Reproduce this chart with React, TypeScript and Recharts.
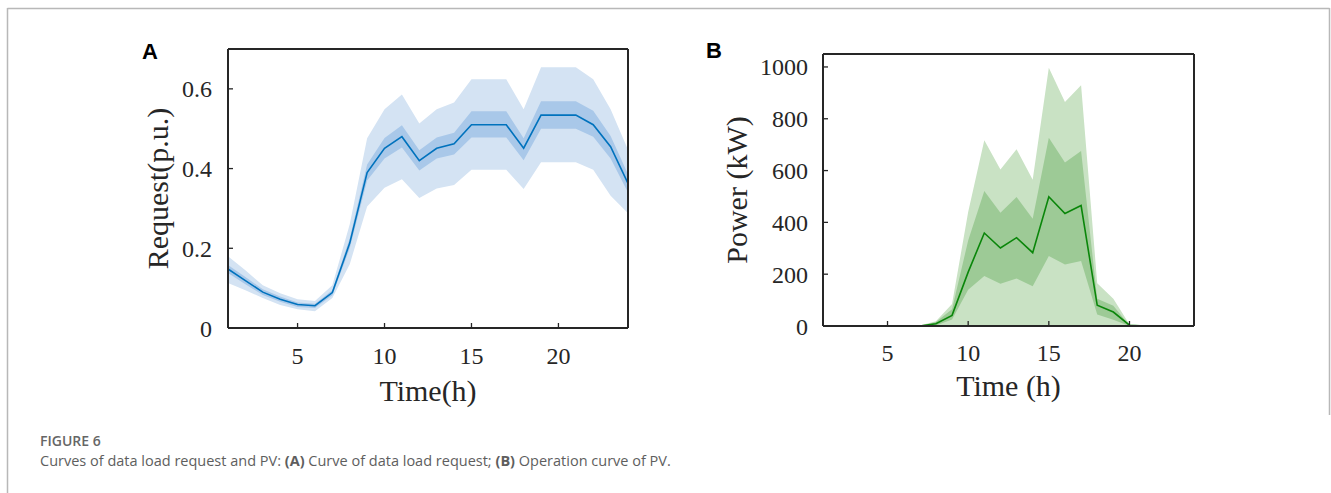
import React from 'react';
import { ComposedChart, Area, Line, XAxis, YAxis } from 'recharts';

// hours of the day
const HOURS = [1, 2, 3, 4, 5, 6, 7, 8, 9, 10, 11, 12, 13, 14, 15, 16, 17, 18, 19, 20, 21, 22, 23, 24];

// (A) data load request, p.u.
const REQ_MEAN = [0.148, 0.119, 0.09, 0.072, 0.059, 0.056, 0.089, 0.213, 0.39, 0.451, 0.48, 0.42, 0.451, 0.462, 0.51, 0.51, 0.51, 0.451, 0.534, 0.534, 0.534, 0.51, 0.455, 0.363];
const REQ_IN_LO = [0.138, 0.11, 0.083, 0.066, 0.053, 0.05, 0.082, 0.2, 0.37, 0.425, 0.453, 0.395, 0.425, 0.435, 0.478, 0.478, 0.478, 0.421, 0.5, 0.5, 0.5, 0.48, 0.425, 0.34];
const REQ_IN_HI = [0.158, 0.128, 0.097, 0.079, 0.064, 0.061, 0.095, 0.225, 0.41, 0.477, 0.509, 0.446, 0.478, 0.49, 0.544, 0.544, 0.544, 0.476, 0.569, 0.569, 0.569, 0.545, 0.482, 0.386];
const REQ_OUT_LO = [0.113, 0.095, 0.075, 0.058, 0.047, 0.042, 0.075, 0.16, 0.305, 0.352, 0.373, 0.326, 0.35, 0.359, 0.397, 0.397, 0.397, 0.349, 0.416, 0.416, 0.416, 0.397, 0.332, 0.288];
const REQ_OUT_HI = [0.18, 0.145, 0.107, 0.087, 0.072, 0.068, 0.107, 0.26, 0.476, 0.549, 0.586, 0.513, 0.549, 0.566, 0.624, 0.624, 0.624, 0.549, 0.654, 0.654, 0.654, 0.624, 0.549, 0.447];

// (B) PV power, kW
const PV_MEAN = [0, 0, 0, 0, 0, 0, 0, 9, 41, 208, 359, 301, 341, 283, 499, 434, 465, 80, 54, 3, 0, 0, 0, 0];
const PV_IN_LO = [0, 0, 0, 0, 0, 0, 0, 2, 25, 140, 193, 163, 183, 153, 270, 237, 251, 44, 24, 0, 0, 0, 0, 0];
const PV_IN_HI = [0, 0, 0, 0, 0, 0, 0, 15, 65, 330, 521, 437, 498, 414, 727, 631, 676, 105, 78, 2, 0, 0, 0, 0];
const PV_OUT_LO = [0, 0, 0, 0, 0, 0, 0, 0, 0, 0, 0, 0, 0, 0, 0, 0, 0, 0, 0, 0, 0, 0, 0, 0];
const PV_OUT_HI = [0, 0, 0, 0, 0, 0, 2, 18, 85, 440, 717, 604, 682, 565, 997, 865, 929, 165, 105, 6, 0, 0, 0, 0];

const X_TICKS = [5, 10, 15, 20];
const REQ_TICKS = [0, 0.2, 0.4, 0.6];
const PV_TICKS = [0, 200, 400, 600, 800, 1000];

const requestData = HOURS.map((h, i) => ({
  hour: h,
  mean: REQ_MEAN[i],
  inner: [REQ_IN_LO[i], REQ_IN_HI[i]],
  outer: [REQ_OUT_LO[i], REQ_OUT_HI[i]],
}));

const pvData = HOURS.map((h, i) => ({
  hour: h,
  mean: PV_MEAN[i],
  inner: [PV_IN_LO[i], PV_IN_HI[i]],
  outer: [PV_OUT_LO[i], PV_OUT_HI[i]],
}));

const INK = '#262626';
const SERIF = '"Liberation Serif", "Times New Roman", serif';
const SANS = '"Open Sans", sans-serif';
const tickStyle = { fill: INK, fontSize: 24, fontFamily: SERIF };
const axisLine = { stroke: INK, strokeWidth: 2 };
const tickLine = { stroke: INK, strokeWidth: 1.3 };
const labelStyle = { fill: INK, fontSize: 30, fontFamily: SERIF };

export default function App() {
  return (
    <div style={{ position: 'absolute', left: 0, top: 0, width: 1331, height: 493, background: '#fff' }}>
      {/* frame, panel letters and caption */}
      <svg width={1331} height={493} style={{ position: 'absolute', left: 0, top: 0 }}>
        <line x1={7.5} y1={8.5} x2={1329.5} y2={8.5} stroke="#b8b8b8" strokeWidth={1.5} />
        <line x1={7.5} y1={8} x2={7.5} y2={493} stroke="#b8b8b8" strokeWidth={1.5} />
        <line x1={1329.5} y1={8} x2={1329.5} y2={415} stroke="#b8b8b8" strokeWidth={1.5} />
        <text x={142} y={59} fontFamily='"Liberation Sans", Arial, sans-serif' fontWeight="bold" fontSize={22} fill="#000">A</text>
        <text x={706} y={58} fontFamily='"Liberation Sans", Arial, sans-serif' fontWeight="bold" fontSize={22} fill="#000">B</text>
        <text x={40} y={446} fontFamily={SANS} fontWeight={600} fontSize={14} fill="#666">FIGURE 6</text>
        <text x={40} y={466} fontFamily={SANS} fontSize={14.5} fill="#5e5e5e">
          Curves of data load request and PV: <tspan fontWeight={700}>(A)</tspan> Curve of data load request;{' '}
          <tspan fontWeight={700}>(B)</tspan> Operation curve of PV.
        </text>
      </svg>

      {/* (A) data load request */}
      <div style={{ position: 'absolute', left: 0, top: 0 }}>
        <ComposedChart width={660} height={493} data={requestData} margin={{ top: 48, right: 31, bottom: 41, left: 86 }}>
          <XAxis
            xAxisId="b"
            dataKey="hour"
            type="number"
            domain={[1, 24]}
            ticks={X_TICKS}
            height={124}
            tick={tickStyle}
            tickSize={-5}
            tickMargin={24}
            axisLine={axisLine}
            tickLine={tickLine}
            label={{ value: 'Time(h)', position: 'center', ...labelStyle }}
          />
          <XAxis xAxisId="t" orientation="top" dataKey="hour" type="number" domain={[1, 24]} ticks={X_TICKS} height={1} tick={false} tickSize={-5} axisLine={axisLine} tickLine={tickLine} />
          <YAxis
            yAxisId="l"
            type="number"
            domain={[0, 0.7]}
            ticks={REQ_TICKS}
            width={142}
            tick={tickStyle}
            tickSize={-5}
            tickMargin={21}
            axisLine={axisLine}
            tickLine={tickLine}
            label={{ value: 'Request(p.u.)', angle: -90, position: 'center', ...labelStyle }}
          />
          <YAxis yAxisId="r" orientation="right" type="number" domain={[0, 0.7]} ticks={REQ_TICKS} width={1} tick={false} tickSize={-5} axisLine={axisLine} tickLine={tickLine} />
          <Area xAxisId="b" yAxisId="l" type="linear" dataKey="outer" stroke="none" fill="#d4e3f3" fillOpacity={1} isAnimationActive={false} />
          <Area xAxisId="b" yAxisId="l" type="linear" dataKey="inner" stroke="none" fill="#a9c8e9" fillOpacity={1} isAnimationActive={false} />
          <Line xAxisId="b" yAxisId="l" type="linear" dataKey="mean" stroke="#0072bd" strokeWidth={1.6} dot={false} isAnimationActive={false} />
        </ComposedChart>
      </div>

      {/* (B) PV operation */}
      <div style={{ position: 'absolute', left: 560, top: 0 }}>
        <ComposedChart width={771} height={493} data={pvData} margin={{ top: 53, right: 136, bottom: 49, left: 89 }}>
          <XAxis
            xAxisId="b"
            dataKey="hour"
            type="number"
            domain={[1, 24]}
            ticks={X_TICKS}
            height={118}
            tick={tickStyle}
            tickSize={-5}
            tickMargin={23}
            axisLine={axisLine}
            tickLine={tickLine}
            label={{ value: 'Time (h)', position: 'center', ...labelStyle }}
          />
          <XAxis xAxisId="t" orientation="top" dataKey="hour" type="number" domain={[1, 24]} ticks={X_TICKS} height={1} tick={false} tickSize={-5} axisLine={axisLine} tickLine={tickLine} />
          <YAxis
            yAxisId="l"
            type="number"
            domain={[0, 1050]}
            ticks={PV_TICKS}
            width={174}
            tick={tickStyle}
            tickSize={-5}
            tickMargin={20}
            axisLine={axisLine}
            tickLine={tickLine}
            label={{ value: 'Power (kW)', angle: -90, position: 'center', ...labelStyle }}
          />
          <YAxis yAxisId="r" orientation="right" type="number" domain={[0, 1050]} ticks={PV_TICKS} width={1} tick={false} tickSize={-5} axisLine={axisLine} tickLine={tickLine} />
          <Area xAxisId="b" yAxisId="l" type="linear" dataKey="outer" stroke="none" fill="#c9e2c4" fillOpacity={1} isAnimationActive={false} />
          <Area xAxisId="b" yAxisId="l" type="linear" dataKey="inner" stroke="none" fill="#9dca96" fillOpacity={1} isAnimationActive={false} />
          <Line xAxisId="b" yAxisId="l" type="linear" dataKey="mean" stroke="#0a860a" strokeWidth={1.6} dot={false} isAnimationActive={false} />
        </ComposedChart>
      </div>
    </div>
  );
}
